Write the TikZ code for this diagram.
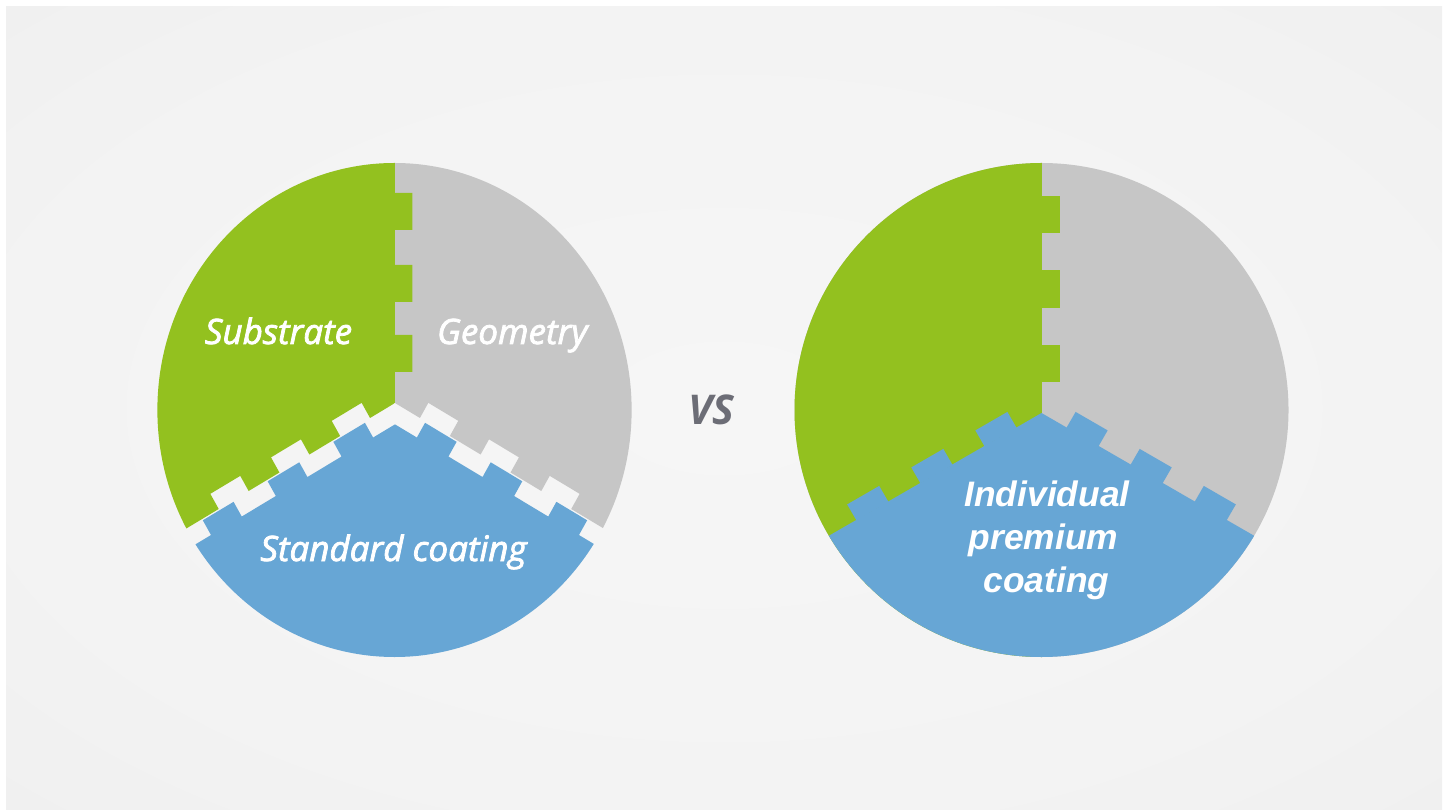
\documentclass[tikz,border=0pt]{standalone}
\usepackage{fontspec}
\newfontfamily\lblfont{Open Sans}[FakeBold=2.2, ItalicFeatures={FakeBold=2.2}]
\newfontfamily\premfont{Liberation Sans}
\newfontfamily\vsfont{Open Sans}
\definecolor{cgreen}{HTML}{93C11F}
\definecolor{cgray}{HTML}{C6C6C6}
\definecolor{cblue}{HTML}{67A6D5}
\definecolor{cvs}{HTML}{6C6D76}
\definecolor{bgA}{HTML}{F6F6F6}
\definecolor{bgB}{HTML}{F3F3F3}
\definecolor{bgC}{HTML}{ECECEC}
\definecolor{bgD}{HTML}{E5E5E5}
\pgfdeclareradialshading{bgshade}{\pgfpoint{0bp}{0bp}}{color(0bp)=(bgA); color(25bp)=(bgB); color(50bp)=(bgC); color(71bp)=(bgD)}
\tikzset{
  lbl/.style={text=white, font=\lblfont\itshape\fontsize{17.5}{20}\selectfont, anchor=base, inner sep=0pt},
  prem/.style={text=white, font=\premfont\bfseries\itshape\fontsize{17.7}{20}\selectfont, anchor=base, inner sep=0pt},
  vslbl/.style={text=cvs, font=\vsfont\bfseries\itshape\fontsize{20.5}{22}\selectfont, anchor=base, inner sep=0pt},
}
\begin{document}
\begin{tikzpicture}[x=0.5pt,y=0.5pt]
\useasboundingbox (0,0) rectangle (1449,809);
\fill[white] (0,0) rectangle (1449,809);
\shade[shading=bgshade] (6,0) rectangle (1442,802);

% ---------- right circle: fitting pieces ----------
\begin{scope}[shift={(1041.5,399)}]
  \clip (0,0) circle (247);
  \fill[cgray] (-260,-260) rectangle (260,260);
  \begin{scope}[shift={(0,-3)}]
    \fill[cgreen] (-300,-300) rectangle (0,300);
    \foreach \a/\b in {30.7/68,105.3/143,179.7/217.3}
      \fill[cgreen] (-0.5,\a) rectangle (18.5,\b);
    \fill[cblue] (0,0) -- (210:400) -- (0,-400) -- (330:400) -- cycle;
    \begin{scope}[rotate=210]
      \foreach \a/\b in {29/66,103/140,177/214}
        \fill[cblue] (\a,0.5) rectangle (\b,-18);
    \end{scope}
    \begin{scope}[rotate=330]
      \foreach \a/\b in {29/66,103/140,177/214}
        \fill[cblue] (\a,-0.5) rectangle (\b,18);
    \end{scope}
  \end{scope}
\end{scope}

% ---------- left circle: pieces that do not fit ----------
\begin{scope}[shift={(394.5,399)}, xscale=0.96]
  \clip (0,0) circle (247);
  \begin{scope}[shift={(0.5,7)}]
    % gray piece
    \begin{scope}[rotate=330]
      \clip (-400,0) -- (30,0) -- (30,17.5) -- (66,17.5) -- (66,0) -- (103,0) -- (103,17.5) -- (139,17.5) -- (139,0)
        -- (176,0) -- (176,17.5) -- (212,17.5) -- (212,0) -- (400,0) -- (400,400) -- (-400,400) -- cycle;
      \begin{scope}[rotate=-330]
        \fill[cgray] (0,-300) rectangle (300,300);
      \end{scope}
    \end{scope}
    % green piece
    \begin{scope}[rotate=210]
      \clip (-400,0) -- (30,0) -- (30,-17.5) -- (66,-17.5) -- (66,0) -- (103,0) -- (103,-17.5) -- (139,-17.5) -- (139,0)
        -- (176,0) -- (176,-17.5) -- (212,-17.5) -- (212,0) -- (400,0) -- (400,-400) -- (-400,-400) -- cycle;
      \begin{scope}[rotate=-210]
        \fill[cgreen] (-300,-300) rectangle (0,300);
        \foreach \a/\b in {31/68,101/138,173/210}
          \fill[cgreen] (-0.5,\a) rectangle (18,\b);
      \end{scope}
    \end{scope}
    % blue piece
    \begin{scope}[rotate=210]
      \clip (-400,18.5) -- (37,18.5) -- (37,1.5) -- (75,1.5) -- (75,18.5) -- (116,18.5) -- (116,1.5) -- (154,1.5) -- (154,18.5)
        -- (195,18.5) -- (195,1.5) -- (232,1.5) -- (232,18.5) -- (400,18.5) -- (400,400) -- (-400,400) -- cycle;
      \begin{scope}[rotate=120]
        \fill[cblue] (-400,-18.5) -- (37,-18.5) -- (37,-1.5) -- (75,-1.5) -- (75,-18.5) -- (116,-18.5) -- (116,-1.5) -- (154,-1.5) -- (154,-18.5)
          -- (195,-18.5) -- (195,-1.5) -- (232,-1.5) -- (232,-18.5) -- (400,-18.5) -- (400,-400) -- (-400,-400) -- cycle;
      \end{scope}
    \end{scope}
  \end{scope}
\end{scope}

% ---------- labels ----------
\node[lbl] (sub) at (278.5,465) {Substrate};
\node[lbl] (geo) at (512.3,465) {Geometry};
\node[lbl] (std) at (393.5,248) {Standard coating};
\node[vslbl] (vs) at (711,384.7) {VS};
\node[prem] (p1) at (1047,302.3) {Individual};
\node[prem] (p2) at (1043.5,260) {premium};
\node[prem] (p3) at (1046.5,217) {coating};
\end{tikzpicture}
\end{document}
